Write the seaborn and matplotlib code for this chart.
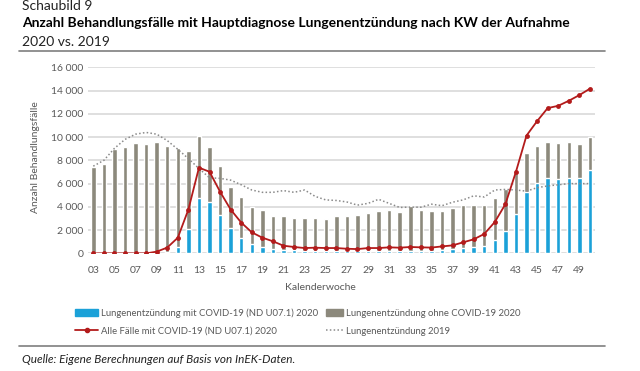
import numpy as np
import pandas as pd
import matplotlib
matplotlib.use("Agg")
import matplotlib.pyplot as plt
import seaborn as sns
from matplotlib.patches import Patch
from matplotlib.lines import Line2D

# Kalenderwochen 03..50
wochen = ["%02d" % w for w in range(3, 51)]
covid_2020 = [0, 0, 0, 0, 0, 0, 0, 100, 550, 2070, 4720, 4430, 3280, 2160, 1350, 830,
              550, 400, 300, 250, 200, 200, 180, 180, 170, 170, 180, 180, 200, 200, 200, 170,
              200, 260, 400, 460, 550, 660, 1180, 1960, 3400, 5300, 6010, 6450, 6390, 6500, 6470, 7140]
ohne_covid_2020 = [7400, 7680, 8980, 9150, 9530, 9380, 9610, 9140, 8510, 6710, 5380, 4720, 4230, 3540, 3480, 3200,
                   3160, 2850, 2920, 2830, 2880, 2820, 2810, 3010, 3020, 3110, 3330, 3500, 3540, 3370, 3860, 3600,
                   3480, 3390, 3510, 3710, 3590, 3460, 3600, 3540, 3480, 3360, 3230, 3100, 3110, 3050, 2970, 2900]
alle_covid_2020 = [0, 0, 0, 0, 0, 0, 150, 500, 1350, 3770, 7370, 7020, 5300, 3770, 2650, 1810,
                   1350, 1040, 660, 550, 460, 490, 460, 460, 400, 370, 460, 460, 520, 490, 550, 520,
                   500, 600, 690, 950, 1210, 1670, 2700, 4230, 7020, 10130, 11370, 12490, 12690, 13120, 13610, 14160]
lungen_2019 = [7500, 8000, 9030, 9800, 10250, 10400, 10250, 9700, 8950, 8150, 7300, 6500, 6450, 6300, 5900, 5450,
               5250, 5250, 5400, 5250, 5450, 4900, 4600, 4550, 4420, 4150, 4300, 4650, 4300, 3950, 3980, 3970,
               4230, 4100, 4400, 4600, 4950, 4850, 5450, 5500, 5450, 5350, 5650, 5800, 5900, 6000, 6000, 6000]

BLAU = "#1ba1d8"
GRAU = "#8c897c"
ROT = "#b31b1b"
PUNKT = "#8a8a8a"

df = pd.DataFrame({"pos": np.arange(len(wochen)), "kw": wochen,
                   "covid": covid_2020, "ohne": ohne_covid_2020,
                   "alle": alle_covid_2020, "v2019": lungen_2019})
df["gesamt"] = df["covid"] + df["ohne"]

sns.set_style("white")
plt.rcParams["font.family"] = ["Lato", "DejaVu Sans"]

fig = plt.figure(figsize=(6.4, 3.71), dpi=100)
ax = fig.add_axes([0.1375, 0.317, 0.7925, 0.5016])

sns.barplot(data=df, x="pos", y="gesamt", color=GRAU, saturation=1, width=0.42,
            native_scale=True, errorbar=None, ax=ax, zorder=2)
sns.barplot(data=df, x="pos", y="covid", color=BLAU, saturation=1, width=0.42,
            native_scale=True, errorbar=None, ax=ax, zorder=3)
sns.lineplot(data=df, x="pos", y="v2019", color=PUNKT, linestyle=(0, (1, 1.5)), linewidth=1.1, ax=ax, zorder=4)
sns.lineplot(data=df, x="pos", y="alle", color=ROT, linewidth=1.3, marker="o", markersize=3.5,
             markeredgewidth=0, ax=ax, zorder=5)

ax.set_xlim(-0.5, len(wochen) - 0.5)
ax.set_ylim(0, 16000)
ax.set_yticks(range(0, 16001, 2000))
ax.set_yticklabels([f"{v:,}".replace(",", " ") for v in range(0, 16001, 2000)])
ax.set_xticks(df["pos"][::2])
ax.set_xticklabels(df["kw"][::2])
ax.tick_params(axis="both", length=0, labelsize=7.5, colors="#595959")
ax.tick_params(axis="x", pad=9)
ax.set_xlabel("")
ax.set_ylabel("")
ax.grid(axis="y", color="#d9d9d9", linewidth=1.2, zorder=0)
ax.set_axisbelow(True)
for s in ax.spines.values():
    s.set_visible(False)

fig.text(0.5, 0.224, "Kalenderwoche", ha="center", va="center", fontsize=7.5, color="#595959")
fig.text(0.055, 0.577, "Anzahl Behandlungsfälle", rotation=90, ha="center", va="center",
         fontsize=7.5, color="#595959")

fig.text(0.034, 0.984, "Schaubild 9", ha="left", va="center", fontsize=10, color="#222222")
fig.text(0.034, 0.938, "Anzahl Behandlungsfälle mit Hauptdiagnose Lungenentzündung nach KW der Aufnahme",
         ha="left", va="center", fontsize=10, fontweight="bold", color="black")
fig.text(0.034, 0.887, "2020 vs. 2019", ha="left", va="center", fontsize=10, color="#222222")
fig.add_artist(Line2D([0.0297, 0.945], [0.8634, 0.8634], color="#7f7f7f", linewidth=1.2))
fig.add_artist(Line2D([0.0297, 0.945], [0.068, 0.068], color="#7f7f7f", linewidth=1.2))
fig.text(0.034, 0.030, "Quelle: Eigene Berechnungen auf Basis von InEK-Daten.", ha="left", va="center",
         fontsize=8.5, style="italic", color="#222222")

h1 = [Patch(color=BLAU, label="Lungenentzündung mit COVID-19 (ND U07.1) 2020"),
      Line2D([], [], color=ROT, linewidth=1.3, marker="o", markersize=3, label="Alle Fälle mit COVID-19 (ND U07.1) 2020")]
h2 = [Patch(color=GRAU, label="Lungenentzündung ohne COVID-19 2020"),
      Line2D([], [], color=PUNKT, linestyle=(0, (1, 1.5)), linewidth=1.1, label="Lungenentzündung 2019")]
legopt = dict(frameon=False, fontsize=6.8, labelcolor="#595959", handletextpad=0.3,
              labelspacing=0.95, borderpad=0, borderaxespad=0)
fig.legend(handles=h1, loc="center left", bbox_to_anchor=(0.117, 0.132), handlelength=2.5, **legopt)
fig.legend(handles=h2, loc="center left", bbox_to_anchor=(0.509, 0.132), handlelength=1.8, **legopt)

fig.savefig("out.png", dpi=100)
